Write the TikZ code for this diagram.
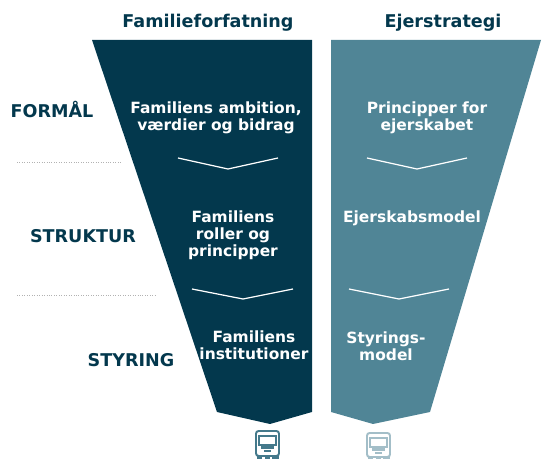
\documentclass[tikz,border=0pt]{standalone}
\usepackage{fontspec}
\setmainfont{DejaVu Sans}
\definecolor{darkteal}{HTML}{03384D}
\definecolor{midteal}{HTML}{508596}
\definecolor{iconlight}{HTML}{A3BEC8}
\tikzset{
  head/.style={font=\bfseries\fontsize{10pt}{12pt}\selectfont, text=darkteal},
  rowlabel/.style={font=\bfseries\fontsize{10pt}{12pt}\selectfont, text=darkteal},
  inner/.style={font=\bfseries\fontsize{8.8pt}{9.8pt}\selectfont, text=white, align=center, inner sep=0pt},
  chevron/.style={draw=white, line width=.7pt},
  sep/.style={draw=black!30, densely dotted, line width=.4pt}
}
\begin{document}
\begin{tikzpicture}[x=.02cm, y=-.02cm]
\useasboundingbox (0, 0) rectangle (542, 459);
\fill [darkteal] (92, 40) -- (312, 40) -- (312, 412) -- (270, 424) -- (217, 412) -- cycle;
\fill [midteal] (331, 40) -- (541, 40) -- (430, 412) -- (373, 424) -- (331, 412) -- cycle;

\node [head] (famhead) at (208, 23) {Familieforfatning};
\node [head] (ejerhead) at (443, 23) {Ejerstrategi};

\node [rowlabel] (formaal) at (52, 109) {FORMÅL};
\node [rowlabel] (struktur) at (83, 236) {STRUKTUR};
\node [rowlabel] (styring) at (131, 360) {STYRING};

\node [inner] (famtop) at (216, 118) {Familiens ambition,\\værdier og bidrag};
\node [inner] (ejertop) at (427, 118) {Principper for\\ejerskabet};
\node [inner] (fammid) at (233, 235) {Familiens\\roller og\\principper};
\node [inner] (ejermid) at (412, 218) {Ejerskabsmodel};
\node [inner] (fambot) at (254, 345) {Familiens\\institutioner};
\node [inner] (ejerbot) at (386, 346) {Styrings-\\model};

\draw [chevron] (178, 158) -- (228, 169) -- (278, 158);
\draw [chevron] (367, 158) -- (417, 169) -- (467, 158);
\draw [chevron] (192, 289) -- (243, 299) -- (293, 289);
\draw [chevron] (349, 289) -- (399, 299) -- (449, 289);

\draw [sep] (17, 162) -- (121, 162);
\draw [sep] (17, 295) -- (157, 295);

% icons
\begin{scope}[midteal!85!darkteal]
\clip (250, 425) rectangle (285, 459);
\draw [line width=1.1pt, rounded corners=1.5pt] (256, 431) rectangle (279, 456);
\draw [line width=1pt] (259, 436) rectangle (276, 445);
\fill (261, 446) rectangle (274, 449);
\fill (264, 450) rectangle (271, 452);
\fill (257, 456) rectangle (262, 459);
\fill (265, 456) rectangle (270, 459);
\fill (272, 456) rectangle (279, 459);
\end{scope}
\begin{scope}[iconlight]
\clip (360, 425) rectangle (395, 459);
\draw [line width=1.1pt, rounded corners=1.5pt] (367, 433) rectangle (390, 457);
\draw [line width=1pt] (370, 438) rectangle (387, 447);
\fill (372, 448) rectangle (385, 451);
\fill (375, 452) rectangle (382, 454);
\fill (368, 457) rectangle (373, 459);
\fill (376, 457) rectangle (381, 459);
\fill (383, 457) rectangle (390, 459);
\end{scope}
\end{tikzpicture}
\end{document}
